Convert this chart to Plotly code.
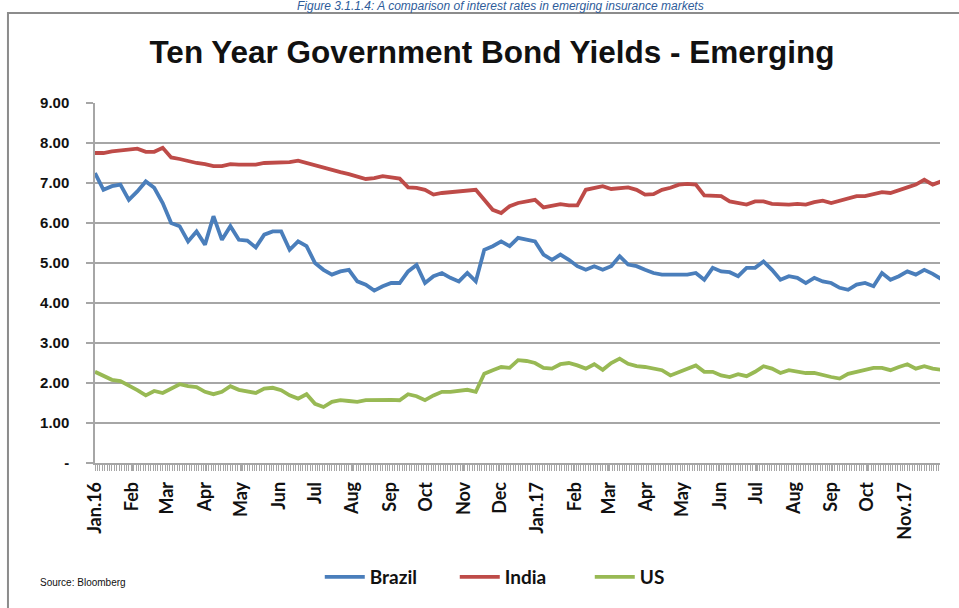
import pandas as pd
import plotly.graph_objects as go

# Weekly observations, 1 Jan 2016 - 30 Nov 2017
dates = pd.date_range("2016-01-01", periods=101, freq="7D")

brazil = [7.25, 6.83, 6.92, 6.96, 6.58, 6.79, 7.04, 6.88, 6.50, 6.00,
          5.92, 5.54, 5.79, 5.46, 6.17, 5.58, 5.92, 5.58, 5.56, 5.39,
          5.71, 5.79, 5.79, 5.33, 5.54, 5.42, 5.00, 4.83, 4.71, 4.79,
          4.83, 4.54, 4.46, 4.31, 4.42, 4.50, 4.50, 4.79, 4.95, 4.50,
          4.67, 4.75, 4.63, 4.54, 4.75, 4.54, 5.33, 5.42, 5.54, 5.42,
          5.63, 5.58, 5.54, 5.21, 5.08, 5.21, 5.08, 4.92, 4.83, 4.92,
          4.83, 4.92, 5.17, 4.96, 4.92, 4.83, 4.75, 4.71, 4.71, 4.71,
          4.71, 4.75, 4.58, 4.88, 4.79, 4.77, 4.67, 4.88, 4.88, 5.04,
          4.83, 4.58, 4.67, 4.63, 4.50, 4.63, 4.54, 4.50, 4.38, 4.33,
          4.46, 4.50, 4.42, 4.75, 4.58, 4.67, 4.79, 4.71, 4.83, 4.73,
          4.60]

india = [7.75, 7.75, 7.79, 7.81, 7.82, 7.86, 7.78, 7.78, 7.88, 7.64,
         7.60, 7.54, 7.50, 7.47, 7.42, 7.42, 7.47, 7.46, 7.46, 7.46,
         7.50, 7.50, 7.52, 7.52, 7.56, 7.50, 7.44, 7.39, 7.31, 7.27,
         7.22, 7.17, 7.10, 7.12, 7.17, 7.14, 7.11, 6.89, 6.88, 6.83,
         6.71, 6.75, 6.77, 6.79, 6.83, 6.83, 6.58, 6.33, 6.25, 6.42,
         6.50, 6.54, 6.58, 6.39, 6.44, 6.47, 6.44, 6.44, 6.83, 6.88,
         6.92, 6.85, 6.88, 6.89, 6.83, 6.71, 6.72, 6.83, 6.88, 6.96,
         6.98, 6.96, 6.69, 6.69, 6.67, 6.54, 6.50, 6.46, 6.54, 6.54,
         6.48, 6.46, 6.46, 6.48, 6.46, 6.52, 6.56, 6.50, 6.56, 6.61,
         6.67, 6.67, 6.71, 6.77, 6.75, 6.83, 6.89, 6.96, 7.08, 6.96,
         7.04]

us = [2.28, 2.17, 2.08, 2.05, 1.94, 1.82, 1.69, 1.80, 1.75, 1.86,
      1.97, 1.92, 1.90, 1.78, 1.72, 1.78, 1.92, 1.83, 1.78, 1.75,
      1.86, 1.88, 1.82, 1.69, 1.61, 1.72, 1.48, 1.40, 1.53, 1.57,
      1.55, 1.53, 1.57, 1.58, 1.57, 1.58, 1.57, 1.72, 1.67, 1.57,
      1.69, 1.78, 1.78, 1.80, 1.83, 1.78, 2.23, 2.32, 2.40, 2.38,
      2.57, 2.55, 2.50, 2.38, 2.36, 2.47, 2.50, 2.44, 2.36, 2.47,
      2.33, 2.50, 2.61, 2.48, 2.42, 2.40, 2.35, 2.32, 2.19, 2.28,
      2.36, 2.44, 2.28, 2.28, 2.19, 2.15, 2.22, 2.17, 2.28, 2.42,
      2.36, 2.25, 2.32, 2.28, 2.25, 2.25, 2.19, 2.15, 2.11, 2.23,
      2.28, 2.33, 2.38, 2.38, 2.32, 2.40, 2.47, 2.36, 2.42, 2.36,
      2.33]

tick_dates = ["2016-01-01", "2016-02-01", "2016-03-01", "2016-04-01", "2016-05-01",
              "2016-06-01", "2016-07-01", "2016-08-01", "2016-09-01", "2016-10-01",
              "2016-11-01", "2016-12-01", "2017-01-01", "2017-02-01", "2017-03-01",
              "2017-04-01", "2017-05-01", "2017-06-01", "2017-07-01", "2017-08-01",
              "2017-09-01", "2017-10-01", "2017-11-01"]
tick_text = ["Jan.16", "Feb", "Mar", "Apr", "May", "Jun", "Jul", "Aug", "Sep", "Oct",
             "Nov", "Dec", "Jan.17", "Feb", "Mar", "Apr", "May", "Jun", "Jul", "Aug",
             "Sep", "Oct", "Nov.17"]

y_vals = [0, 1, 2, 3, 4, 5, 6, 7, 8, 9]
y_text = ["-", "1.00", "2.00", "3.00", "4.00", "5.00", "6.00", "7.00", "8.00", "9.00"]

series = [("Brazil", brazil, "#4A7EBB"), ("India", india, "#BE4B48"), ("US", us, "#98B954")]

fig = go.Figure()
for name, vals, col in series:
    fig.add_trace(go.Scatter(x=dates, y=vals, name=name, mode="lines",
                             line=dict(color=col, width=3.8)))

GRID = "#A6A6A6"
fig.update_layout(
    width=959, height=608,
    margin=dict(l=95, r=19, t=103, b=145, autoexpand=False),
    paper_bgcolor="white", plot_bgcolor="white",
    showlegend=True,
    legend=dict(orientation="h", x=0.266, xanchor="left", y=-0.317, yanchor="middle",
                font=dict(family="Lato, Liberation Sans, Arial", size=19, color="#111",
                          weight="bold"),
                entrywidth=80, entrywidthmode="pixels",
                itemwidth=40, tracegroupgap=0),
    title=dict(text="<b>Ten Year Government Bond Yields - Emerging</b>",
               x=0.513, xanchor="center", y=0.914, yanchor="middle",
               font=dict(family="Liberation Sans, Arial", size=31.5, color="#111")),
    xaxis=dict(type="date", range=["2016-01-01", "2017-11-30"], automargin=False,
               tickmode="array", tickvals=tick_dates, ticktext=tick_text,
               tickangle=-90, showgrid=False,
               showline=True, linecolor=GRID, linewidth=1.5,
               ticks="outside", ticklen=6, tickcolor=GRID, tickwidth=1,
               minor=dict(ticks="outside", ticklen=6, tickcolor=GRID, tickwidth=1,
                          dtick=2 * 86400000, tick0="2016-01-01", showgrid=False),
               tickfont=dict(family="Lato, Liberation Sans, Arial", size=18, color="#111",
                             weight="bold"),
               ticklabelstandoff=4),
    yaxis=dict(range=[0, 9], tickmode="array", tickvals=y_vals, ticktext=y_text,
               automargin=False,
               showgrid=True, gridcolor=GRID, gridwidth=1.5,
               showline=True, linecolor=GRID, linewidth=1.5,
               ticks="outside", ticklen=7, tickcolor=GRID, tickwidth=1.5,
               zeroline=False,
               tickfont=dict(family="Liberation Sans, Arial", size=15, color="#111",
                             weight="bold"),
               ticklabelstandoff=14),
)

# chart frame
fig.add_shape(type="rect", xref="paper", yref="paper",
              x0=-0.103, x1=1.035, y0=-0.45, y1=1.25,
              line=dict(color="#8C8C8C", width=2), fillcolor="rgba(0,0,0,0)", layer="below")

# caption above the chart frame
fig.add_annotation(text="<i>Figure 3.1.1.4: A comparison of interest rates in emerging insurance markets</i>",
                   xref="paper", yref="paper", x=0.48, y=1.2685, xanchor="center", yanchor="middle",
                   showarrow=False,
                   font=dict(family="Liberation Sans, Arial", size=12, color="#2E5C9A"))

fig.add_annotation(text="Source: Bloomberg", xref="paper", yref="paper",
                   x=-0.068, y=-0.333, xanchor="left", yanchor="middle", showarrow=False,
                   font=dict(family="Liberation Sans, Arial", size=10, color="#111"))

fig.write_html("out.html", config={"displayModeBar": False},
               post_script="document.body.style.margin='0px';")
